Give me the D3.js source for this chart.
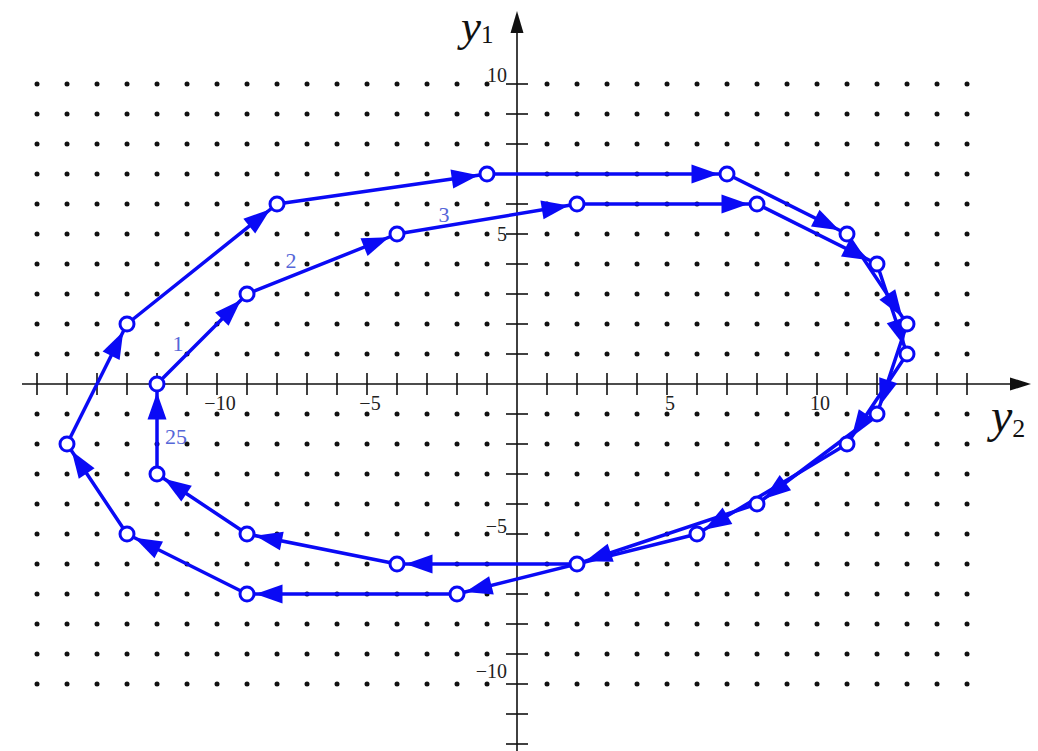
<!DOCTYPE html>
<html>
<head>
<meta charset="utf-8">
<script src="https://cdn.jsdelivr.net/npm/d3@7"></script>
<style>
  html, body { margin: 0; padding: 0; background: #fff; }
  svg { display: block; }
</style>
</head>
<body>
<script>
// Phase-plane orbit (y2, y1) of the quantized recursion; 25 states, closing back to state 1.
const orbitY2 = [-12, -9, -4, 2, 8, 12, 13, 11, 6, -2, -9, -13, -15, -13, -8, -1, 7, 11, 13, 12, 8, 2, -4, -9, -12];
const orbitY1 = [0, 3, 5, 6, 6, 4, 1, -2, -5, -7, -7, -5, -2, 2, 6, 7, 7, 5, 2, -1, -4, -6, -6, -5, -3];

// Step numbers written beside the orbit
const labeledSteps = [1, 2, 3, 25];

// Axis ticks and their printed labels
const y2Ticks = d3.range(-16, 16).filter(v => v !== 0);
const y1Ticks = d3.range(-12, 11).filter(v => v !== 0);
const y2TickLabels = [-10, -5, 5, 10];
const y1TickLabels = [10, 5, -5, -10];

// Integer lattice shown as dots
const latticeY2 = d3.range(-16, 16);
const latticeY1 = d3.range(-10, 11);

const W = 1038, H = 751;
const svg = d3.select("body").append("svg").attr("width", W).attr("height", H);

const x = d3.scaleLinear().domain([-16, 15]).range([37, 967]);
const y = d3.scaleLinear().domain([-10, 10]).range([684, 84]);
const x0 = x(0), y0 = y(0);

const BLUE = "#0a0af5";
const serif = "'Liberation Serif', 'DejaVu Serif', serif";

// lattice dots (none on the axes)
const dots = [];
latticeY2.forEach(a => latticeY1.forEach(b => { if (a !== 0 && b !== 0) dots.push([a, b]); }));
svg.append("g").selectAll("circle").data(dots).join("circle")
  .attr("cx", d => x(d[0])).attr("cy", d => y(d[1])).attr("r", 2.5).attr("fill", "#111");

// axes
const axes = svg.append("g").attr("stroke", "#111").attr("stroke-width", 1.6);
axes.append("line").attr("x1", 22).attr("x2", 1016).attr("y1", y0).attr("y2", y0);
axes.append("line").attr("x1", x0).attr("x2", x0).attr("y1", H).attr("y2", 28);
axes.selectAll(".tx").data(y2Ticks).join("line").attr("class", "tx")
  .attr("x1", d => x(d)).attr("x2", d => x(d)).attr("y1", y0 - 11).attr("y2", y0 + 11);
axes.selectAll(".ty").data(y1Ticks).join("line").attr("class", "ty")
  .attr("y1", d => y(d)).attr("y2", d => y(d)).attr("x1", x0 - 11).attr("x2", x0 + 11);
svg.append("path").attr("fill", "#111")
  .attr("d", `M1031,${y0} L1010,${y0 - 6.5} L1010,${y0 + 6.5} Z`);
svg.append("path").attr("fill", "#111")
  .attr("d", `M${x0},11 L${x0 - 6.5},33 L${x0 + 6.5},33 Z`);

const fmt = v => (v < 0 ? "\u2212" : "") + Math.abs(v);
svg.append("g").selectAll("text").data(y2TickLabels).join("text")
  .attr("x", d => x(d) + 3).attr("y", y0 + 26)
  .attr("text-anchor", "middle").attr("font-family", serif).attr("font-size", 20).attr("fill", "#222")
  .text(fmt);
const y1LabelShift = { "10": -2, "5": 7, "-5": -1, "-10": -6 };
svg.append("g").selectAll("text").data(y1TickLabels).join("text")
  .attr("x", x0 - 10).attr("y", d => y(d) + y1LabelShift[d])
  .attr("text-anchor", "end").attr("font-family", serif).attr("font-size", 20).attr("fill", "#222")
  .text(fmt);

// axis names
const n1 = svg.append("text").attr("x", 461).attr("y", 41).attr("font-family", serif).attr("fill", "#111");
n1.append("tspan").attr("font-style", "italic").attr("font-size", 45).text("y");
n1.append("tspan").attr("font-size", 25).attr("dy", 2).text("1");
const n2 = svg.append("text").attr("x", 991).attr("y", 432).attr("font-family", serif).attr("fill", "#111");
n2.append("tspan").attr("font-style", "italic").attr("font-size", 48).text("y");
n2.append("tspan").attr("font-size", 26).attr("dy", 5).text("2");

// orbit segments, state k -> state k+1, the last one returning to state 1
const pts = orbitY2.map((v, i) => [x(v), y(orbitY1[i])]);
const segs = pts.map((p, i) => [p, pts[(i + 1) % pts.length]]);

svg.append("g").selectAll("line").data(segs).join("line")
  .attr("x1", d => d[0][0]).attr("y1", d => d[0][1])
  .attr("x2", d => d[1][0]).attr("y2", d => d[1][1])
  .attr("stroke", BLUE).attr("stroke-width", 3.5).attr("stroke-linecap", "round");

// arrowheads ending at the rim of the target circle
const R = 7, headLen = 27, headHalf = 9.5;
svg.append("g").selectAll("path").data(segs).join("path")
  .attr("fill", BLUE)
  .attr("d", d => {
    const dx = d[1][0] - d[0][0], dy = d[1][1] - d[0][1];
    const L = Math.hypot(dx, dy), ux = dx / L, uy = dy / L;
    const tx = d[1][0] - ux * (R + 1.5), ty = d[1][1] - uy * (R + 1.5);
    const bx = tx - ux * headLen, by = ty - uy * headLen;
    return `M${tx},${ty} L${bx - uy * headHalf},${by + ux * headHalf} L${bx + uy * headHalf},${by - ux * headHalf} Z`;
  });

// state markers
svg.append("g").selectAll("circle").data(pts).join("circle")
  .attr("cx", d => d[0]).attr("cy", d => d[1]).attr("r", R)
  .attr("fill", "#fff").attr("stroke", BLUE).attr("stroke-width", 3);

// step numbers
const stepOffset = { 1: [21, -33], 2: [44, -26], 3: [47, -12], 25: [19, -30] };
svg.append("g").selectAll("text").data(labeledSteps).join("text")
  .attr("x", d => pts[d - 1][0] + stepOffset[d][0])
  .attr("y", d => pts[d - 1][1] + stepOffset[d][1])
  .attr("text-anchor", "middle").attr("font-family", serif).attr("font-size", 22)
  .attr("fill", "#5566d8")
  .text(d => d);
</script>
</body>
</html>
